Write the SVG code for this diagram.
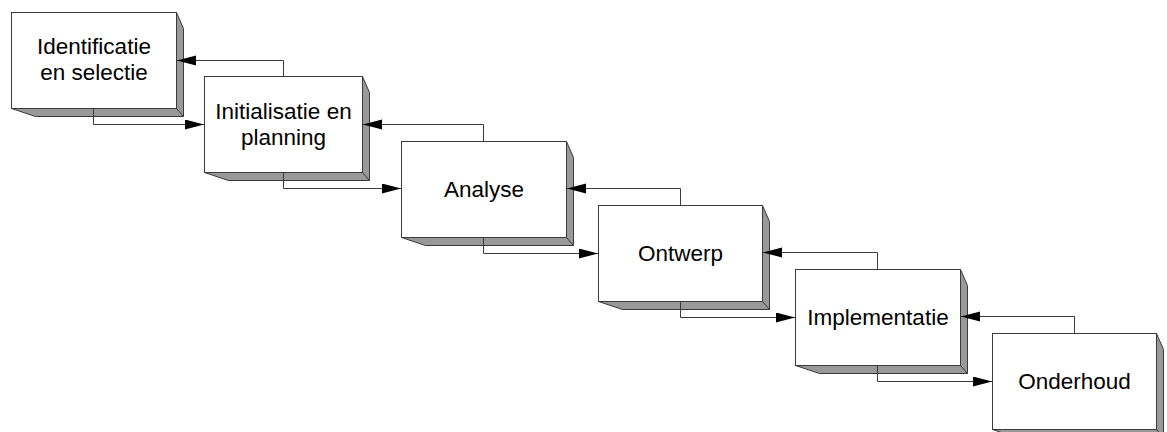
<svg xmlns="http://www.w3.org/2000/svg" width="1167" height="432" viewBox="0 0 1167 432">
  <style>
    .face { fill: #ffffff; stroke: #3a3a3a; stroke-width: 1; }
    .side { fill: #999999; stroke: #3a3a3a; stroke-width: 1; stroke-linejoin: miter; }
    .edge { fill: none; stroke: #3a3a3a; stroke-width: 1; }
    .label { font-family: "Liberation Sans", Arial, sans-serif; font-size: 22.5px; fill: #000000; text-anchor: middle; }
    .link { fill: none; stroke: #3a3a3a; stroke-width: 1; marker-end: url(#arrow); }
  </style>
  <defs>
    <marker id="arrow" markerUnits="userSpaceOnUse" markerWidth="20" markerHeight="11" refX="19" refY="5" orient="auto">
      <path d="M0,0 L19,5 L0,10 Z" fill="#000000"/>
    </marker>
  </defs>

  <rect width="1167" height="432" fill="#ffffff"/>

  <!-- phase boxes: front face plus shaded right/bottom bevel -->
  <g id="identificatie">
    <polygon class="side" points="176.5,12.5 183.5,28.5 183.5,116.5 35.5,116.5 11.5,108.5 176.5,108.5"/>
    <line class="edge" x1="176.5" y1="108.5" x2="183.5" y2="116.5"/>
    <rect class="face" x="11.5" y="12.5" width="165" height="96"/>
    <text class="label" x="94" y="54">Identificatie</text>
    <text class="label" x="94" y="80">en selectie</text>
  </g>

  <g id="initialisatie">
    <polygon class="side" points="362.5,76.5 369.5,92.5 369.5,180.5 228.5,180.5 204.5,172.5 362.5,172.5"/>
    <line class="edge" x1="362.5" y1="172.5" x2="369.5" y2="180.5"/>
    <rect class="face" x="204.5" y="76.5" width="158" height="96"/>
    <text class="label" x="283.5" y="119">Initialisatie en</text>
    <text class="label" x="283.5" y="145">planning</text>
  </g>

  <g id="analyse">
    <polygon class="side" points="566.5,141.5 573.5,157.5 573.5,245.5 425.5,245.5 401.5,237.5 566.5,237.5"/>
    <line class="edge" x1="566.5" y1="237.5" x2="573.5" y2="245.5"/>
    <rect class="face" x="401.5" y="141.5" width="165" height="96"/>
    <text class="label" x="484" y="197">Analyse</text>
  </g>

  <g id="ontwerp">
    <polygon class="side" points="762.5,205.5 769.5,221.5 769.5,309.5 622.5,309.5 598.5,301.5 762.5,301.5"/>
    <line class="edge" x1="762.5" y1="301.5" x2="769.5" y2="309.5"/>
    <rect class="face" x="598.5" y="205.5" width="164" height="96"/>
    <text class="label" x="680.5" y="261">Ontwerp</text>
  </g>

  <g id="implementatie">
    <polygon class="side" points="960.5,269.5 967.5,285.5 967.5,373.5 819.5,373.5 795.5,365.5 960.5,365.5"/>
    <line class="edge" x1="960.5" y1="365.5" x2="967.5" y2="373.5"/>
    <rect class="face" x="795.5" y="269.5" width="165" height="96"/>
    <text class="label" x="878" y="325">Implementatie</text>
  </g>

  <g id="onderhoud">
    <polygon class="side" points="1156.5,333.5 1163.5,349.5 1163.5,437.5 1016.5,437.5 992.5,429.5 1156.5,429.5"/>
    <line class="edge" x1="1156.5" y1="429.5" x2="1163.5" y2="437.5"/>
    <rect class="face" x="992.5" y="333.5" width="164" height="96"/>
    <text class="label" x="1074.5" y="389">Onderhoud</text>
  </g>

  <!-- connectors: forward to the next phase, feedback to the previous one -->
  <g id="connectors">
    <path class="link" d="M93.5,108.5 V124.5 H204"/>
    <path class="link" d="M283.5,76.5 V60.5 H177"/>

    <path class="link" d="M283.5,172.5 V188.5 H401"/>
    <path class="link" d="M483.5,141.5 V124.5 H363"/>

    <path class="link" d="M483.5,237.5 V253.5 H598"/>
    <path class="link" d="M680.5,205.5 V188.5 H567"/>

    <path class="link" d="M680.5,301.5 V317.5 H795"/>
    <path class="link" d="M877.5,269.5 V252.5 H763"/>

    <path class="link" d="M877.5,365.5 V381.5 H992"/>
    <path class="link" d="M1074.5,333.5 V316.5 H961"/>
  </g>
</svg>
